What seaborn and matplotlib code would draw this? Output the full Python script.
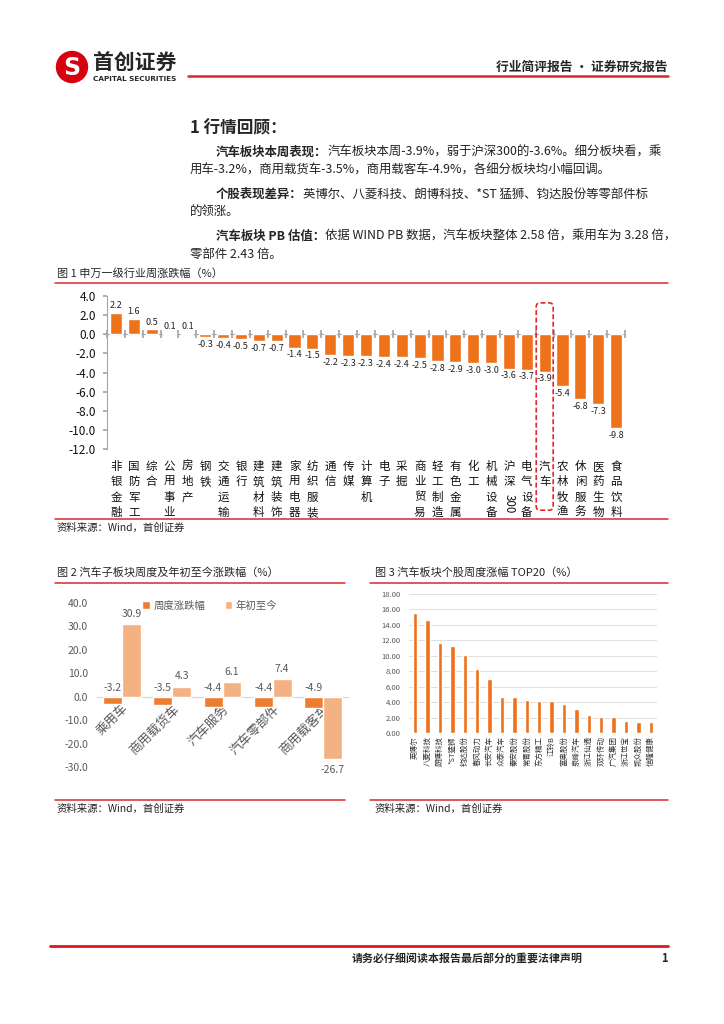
import matplotlib
matplotlib.use('Agg')
import matplotlib.pyplot as plt
import matplotlib.transforms as mtransforms
from matplotlib.lines import Line2D
from matplotlib.patches import Ellipse, FancyBboxPatch
from matplotlib.ticker import FormatStrFormatter
import numpy as np
import pandas as pd
import seaborn as sns

# 图1 申万一级行业周涨跌幅
industries = ['非银金融', '国防军工', '综合', '公用事业', '房地产', '钢铁', '交通运输', '银行',
              '建筑材料', '建筑装饰', '家用电器', '纺织服装', '通信', '传媒', '计算机', '电子',
              '采掘', '商业贸易', '轻工制造', '有色金属', '化工', '机械设备', '沪深300',
              '电气设备', '汽车', '农林牧渔', '休闲服务', '医药生物', '食品饮料']
industry_chg = [2.2, 1.6, 0.5, 0.1, 0.1, -0.3, -0.4, -0.5, -0.7, -0.7, -1.4, -1.5, -2.2,
                -2.3, -2.3, -2.4, -2.4, -2.5, -2.8, -2.9, -3.0, -3.0, -3.6, -3.7, -3.9,
                -5.4, -6.8, -7.3, -9.8]
highlight = '汽车'

# 图2 汽车子板块周度及年初至今涨跌幅
sub_sectors = ['乘用车', '商用载货车', '汽车服务', '汽车零部件', '商用载客车']
sub_week = [-3.2, -3.5, -4.4, -4.4, -4.9]
sub_ytd = [30.9, 4.3, 6.1, 7.4, -26.7]
series_names = ['周度涨跌幅', '年初至今']

# 图3 个股周度涨幅TOP20
stocks = ['英博尔', '八菱科技', '朗博科技', '*ST猛狮', '钧达股份', '春风动力', '长安汽车',
          '众泰汽车', '秦安股份', '常青股份', '东方精工', '江铃B', '富奥股份', '泉峰汽车',
          '浙江仙通', '双环传动', '广汽集团', '浙江世宝', '凯众股份', '信隆健康']
stock_chg = [15.6, 14.6, 11.6, 11.3, 10.1, 8.3, 7.0, 4.7, 4.6, 4.25, 4.15, 4.1, 3.75, 3.05,
             2.3, 2.1, 2.05, 1.5, 1.47, 1.42]

ORANGE = '#EE7219'
C_WEEK = '#ED7D31'
C_YTD = '#F4B183'
RED = '#D7282F'

sns.set_theme(style='white')
plt.rcParams['font.family'] = ['Noto Sans CJK SC', 'DejaVu Sans']
plt.rcParams['axes.unicode_minus'] = False

W, H = 724, 1024
fig = plt.figure(figsize=(W / 100, H / 100), dpi=100)


def fx(x):
    return x / W


def fy(y):
    return 1 - y / H


def hline(x0, x1, y, lw=1.0, color=RED):
    fig.add_artist(Line2D([fx(x0), fx(x1)], [fy(y), fy(y)], color=color, lw=lw,
                          transform=fig.transFigure))


def axes_px(left, top, right, bottom):
    return fig.add_axes([fx(left), fy(bottom), (right - left) / W, (bottom - top) / H])


# ---- header ----
fig.add_artist(Ellipse((fx(72), fy(67)), 31 / W, 31 / H, color='#D7000F',
                       transform=fig.transFigure))
fig.text(fx(72), fy(68), 'S', color='white', fontsize=17, fontweight='bold',
         family='DejaVu Sans', ha='center', va='center')
fig.text(fx(93), fy(63), '首创证券', fontsize=15, fontweight='bold', ha='left', va='center')
fig.text(fx(93), fy(79), 'CAPITAL SECURITIES', fontsize=5.2, fontweight='bold',
         family='DejaVu Sans', ha='left', va='center')
hline(188, 668, 76, lw=1.8)
fig.text(fx(668), fy(67), '行业简评报告 · 证券研究报告', fontsize=9.2, fontweight='bold',
         ha='right', va='center')

# ---- text ----
fig.text(fx(190), fy(128), '1 行情回顾：', fontsize=12, fontweight='bold', va='center')
renderer = fig.canvas.get_renderer()
paras = [
    ('汽车板块本周表现：', '汽车板块本周-3.9%，弱于沪深300的-3.6%。细分板块看，乘',
     '用车-3.2%，商用载货车-3.5%，商用载客车-4.9%，各细分板块均小幅回调。', 152),
    ('个股表现差异：', '英博尔、八菱科技、朗博科技、*ST 猛狮、钧达股份等零部件标',
     '的领涨。', 194),
    ('汽车板块 PB 估值：', '依据 WIND PB 数据，汽车板块整体 2.58 倍，乘用车为 3.28 倍，',
     '零部件 2.43 倍。', 236),
]
for bold, rest, line2, y in paras:
    t = fig.text(fx(216), fy(y), bold, fontsize=8.95, fontweight='bold', va='center')
    bb = t.get_window_extent(renderer=renderer)
    x_next = fig.transFigure.inverted().transform((bb.x1, 0))[0]
    fig.text(x_next, fy(y), rest, fontsize=8.95, va='center', color='#222222')
    fig.text(fx(190), fy(y + 18.5), line2, fontsize=8.95, va='center', color='#222222')

# ---- 图1 ----
fig.text(fx(57), fy(273), '图 1 申万一级行业周涨跌幅（%）', fontsize=8, va='center')
hline(55, 668, 283, lw=1.1)
hline(55, 668, 519, lw=1.1)
fig.text(fx(57), fy(528), '资料来源：Wind，首创证券', fontsize=7.5, va='center', color='#222222')

ax1 = axes_px(107, 296, 625, 449)
df1 = pd.DataFrame({'industry': industries, 'chg': industry_chg})
sns.barplot(data=df1, x='industry', y='chg', color=ORANGE, width=0.68, saturation=1,
            errorbar=None, ax=ax1)
n1 = len(industries)
ax1.set_xlim(-0.5, n1 - 0.5)
ax1.set_ylim(-12, 4)
ax1.set_yticks(np.arange(-12, 4.1, 2))
ax1.yaxis.set_major_formatter(FormatStrFormatter('%.1f'))
for s in ['top', 'right', 'bottom']:
    ax1.spines[s].set_visible(False)
ax1.spines['left'].set_color('#A6A6A6')
ax1.spines['left'].set_linewidth(0.8)
ax1.tick_params(axis='y', left=True, length=3, color='#A6A6A6', labelsize=8.5, pad=5,
                labelcolor='#111111')
stack_labels = ['沪\n深' if name == '沪深300' else '\n'.join(name) for name in industries]
ax1.set_xticks(range(n1))
ax1.set_xticklabels(stack_labels, fontsize=8.3, linespacing=1.22, va='top')
ax1.tick_params(axis='x', length=0, pad=8, labelcolor='#111111')
ax1.set_xlabel('')
ax1.set_ylabel('')
ax1.bar_label(ax1.containers[0], fmt='%.1f', padding=2, fontsize=6.5, color='#222222')

trans1 = mtransforms.blended_transform_factory(ax1.transData, ax1.transAxes)
ax1.text(industries.index('沪深300'), -0.355, '300', transform=trans1, rotation=-90,
         ha='center', va='center', fontsize=8.3, color='#111111')

sec1 = ax1.secondary_xaxis(12 / 16)
sec1.set_xticks(np.arange(-0.5, n1, 1.0))
sec1.tick_params(axis='x', direction='in', length=3, color='#A6A6A6', top=True,
                 bottom=True, labeltop=False, labelbottom=False)
for s in sec1.spines.values():
    s.set_color('#A6A6A6')
    s.set_linewidth(0.8)

hi = industries.index(highlight)
pos1 = ax1.get_position()
aspect = (pos1.width * W / n1) / (pos1.height * H)
box = FancyBboxPatch((hi - 0.47, -0.40), 0.95, 1.355,
                     boxstyle='round,pad=0,rounding_size=0.22', mutation_aspect=aspect,
                     transform=trans1, fill=False, edgecolor='#E8262A', lw=1.2,
                     linestyle=(0, (3, 1.5)), clip_on=False)
ax1.add_patch(box)

# ---- 图2 ----
fig.text(fx(57), fy(573), '图 2 汽车子板块周度及年初至今涨跌幅（%）', fontsize=8, va='center')
hline(55, 345, 583, lw=1.1)
hline(55, 345, 800, lw=1.1)
fig.text(fx(57), fy(809), '资料来源：Wind，首创证券', fontsize=7.5, va='center', color='#222222')

ax2 = axes_px(97, 603, 348, 767)
df2 = pd.DataFrame({'sector': sub_sectors * 2,
                    'value': sub_week + sub_ytd,
                    'series': [series_names[0]] * len(sub_sectors) + [series_names[1]] * len(sub_sectors)})
sns.barplot(data=df2, x='sector', y='value', hue='series', palette=[C_WEEK, C_YTD],
            width=0.75, saturation=1, errorbar=None, ax=ax2)
ax2.set_xlim(-0.5, len(sub_sectors) - 0.5)
ax2.set_ylim(-30, 40)
ax2.set_yticks(np.arange(-30, 40.1, 10))
ax2.yaxis.set_major_formatter(FormatStrFormatter('%.1f'))
for s in ax2.spines.values():
    s.set_visible(False)
ax2.tick_params(axis='y', length=0, labelsize=7.5, labelcolor='#595959', pad=6.5)
ax2.tick_params(axis='x', length=0, labelbottom=False)
ax2.set_xlabel('')
ax2.set_ylabel('')

for bar, v in zip(ax2.containers[0], sub_week):
    ax2.annotate(f'{v:.1f}', xy=(bar.get_x() + bar.get_width() / 2, 0), xytext=(0, 3),
                 textcoords='offset points', ha='center', va='bottom', fontsize=7.5,
                 color='#595959')
ax2.bar_label(ax2.containers[1], fmt='%.1f', padding=4, fontsize=7.5, color='#595959')

handles, labels = ax2.get_legend_handles_labels()
ax2.legend(handles, labels, loc='center', bbox_to_anchor=(0.45, 0.985), ncol=2,
           frameon=False, fontsize=7.5, handlelength=0.7, handleheight=0.7,
           columnspacing=1.8, handletextpad=0.4, labelcolor='#595959')

sec2 = ax2.secondary_xaxis(30 / 70)
sec2.set_xticks(range(len(sub_sectors)))
sec2.set_xticklabels(sub_sectors, rotation=45, ha='right', va='top', rotation_mode='anchor',
                     fontsize=9.3, color='#595959')
sec2.tick_params(axis='x', length=0, pad=4, top=False, bottom=False)
for s in sec2.spines.values():
    s.set_color('#D9D9D9')
    s.set_linewidth(0.9)

# ---- 图3 ----
fig.text(fx(375), fy(573), '图 3 汽车板块个股周度涨幅 TOP20（%）', fontsize=8, va='center')
hline(370, 668, 583, lw=1.1)
hline(370, 668, 800, lw=1.1)
fig.text(fx(375), fy(809), '资料来源：Wind，首创证券', fontsize=7.5, va='center', color='#222222')

ax3 = axes_px(409, 594, 657, 733)
df3 = pd.DataFrame({'stock': stocks, 'chg': stock_chg})
sns.barplot(data=df3, x='stock', y='chg', color=ORANGE, width=0.36, saturation=1,
            errorbar=None, ax=ax3)
ax3.set_xlim(-0.5, len(stocks) - 0.5)
ax3.set_ylim(0, 18)
ax3.set_yticks(np.arange(0, 18.1, 2))
ax3.yaxis.set_major_formatter(FormatStrFormatter('%.2f'))
ax3.yaxis.grid(True, color='#D9D9D9', lw=0.6)
ax3.xaxis.grid(False)
ax3.set_axisbelow(True)
for s in ax3.spines.values():
    s.set_visible(False)
ax3.tick_params(axis='y', length=0, labelsize=5.5, labelcolor='#595959', pad=6)
ax3.set_xticks(range(len(stocks)))
ax3.set_xticklabels(stocks, rotation=90, ha='center', va='top', fontsize=5.4, color='#333333')
ax3.tick_params(axis='x', length=0, pad=2.5)
ax3.set_xlabel('')
ax3.set_ylabel('')

# ---- footer ----
hline(50, 668, 946, lw=2.0, color='#E0161D')
fig.text(fx(352), fy(958), '请务必仔细阅读本报告最后部分的重要法律声明', fontsize=7.9,
         fontweight='bold', va='center')
fig.text(fx(668), fy(958), '1', fontsize=8, fontweight='bold', ha='right', va='center')

fig.savefig('out.png', dpi=100)
